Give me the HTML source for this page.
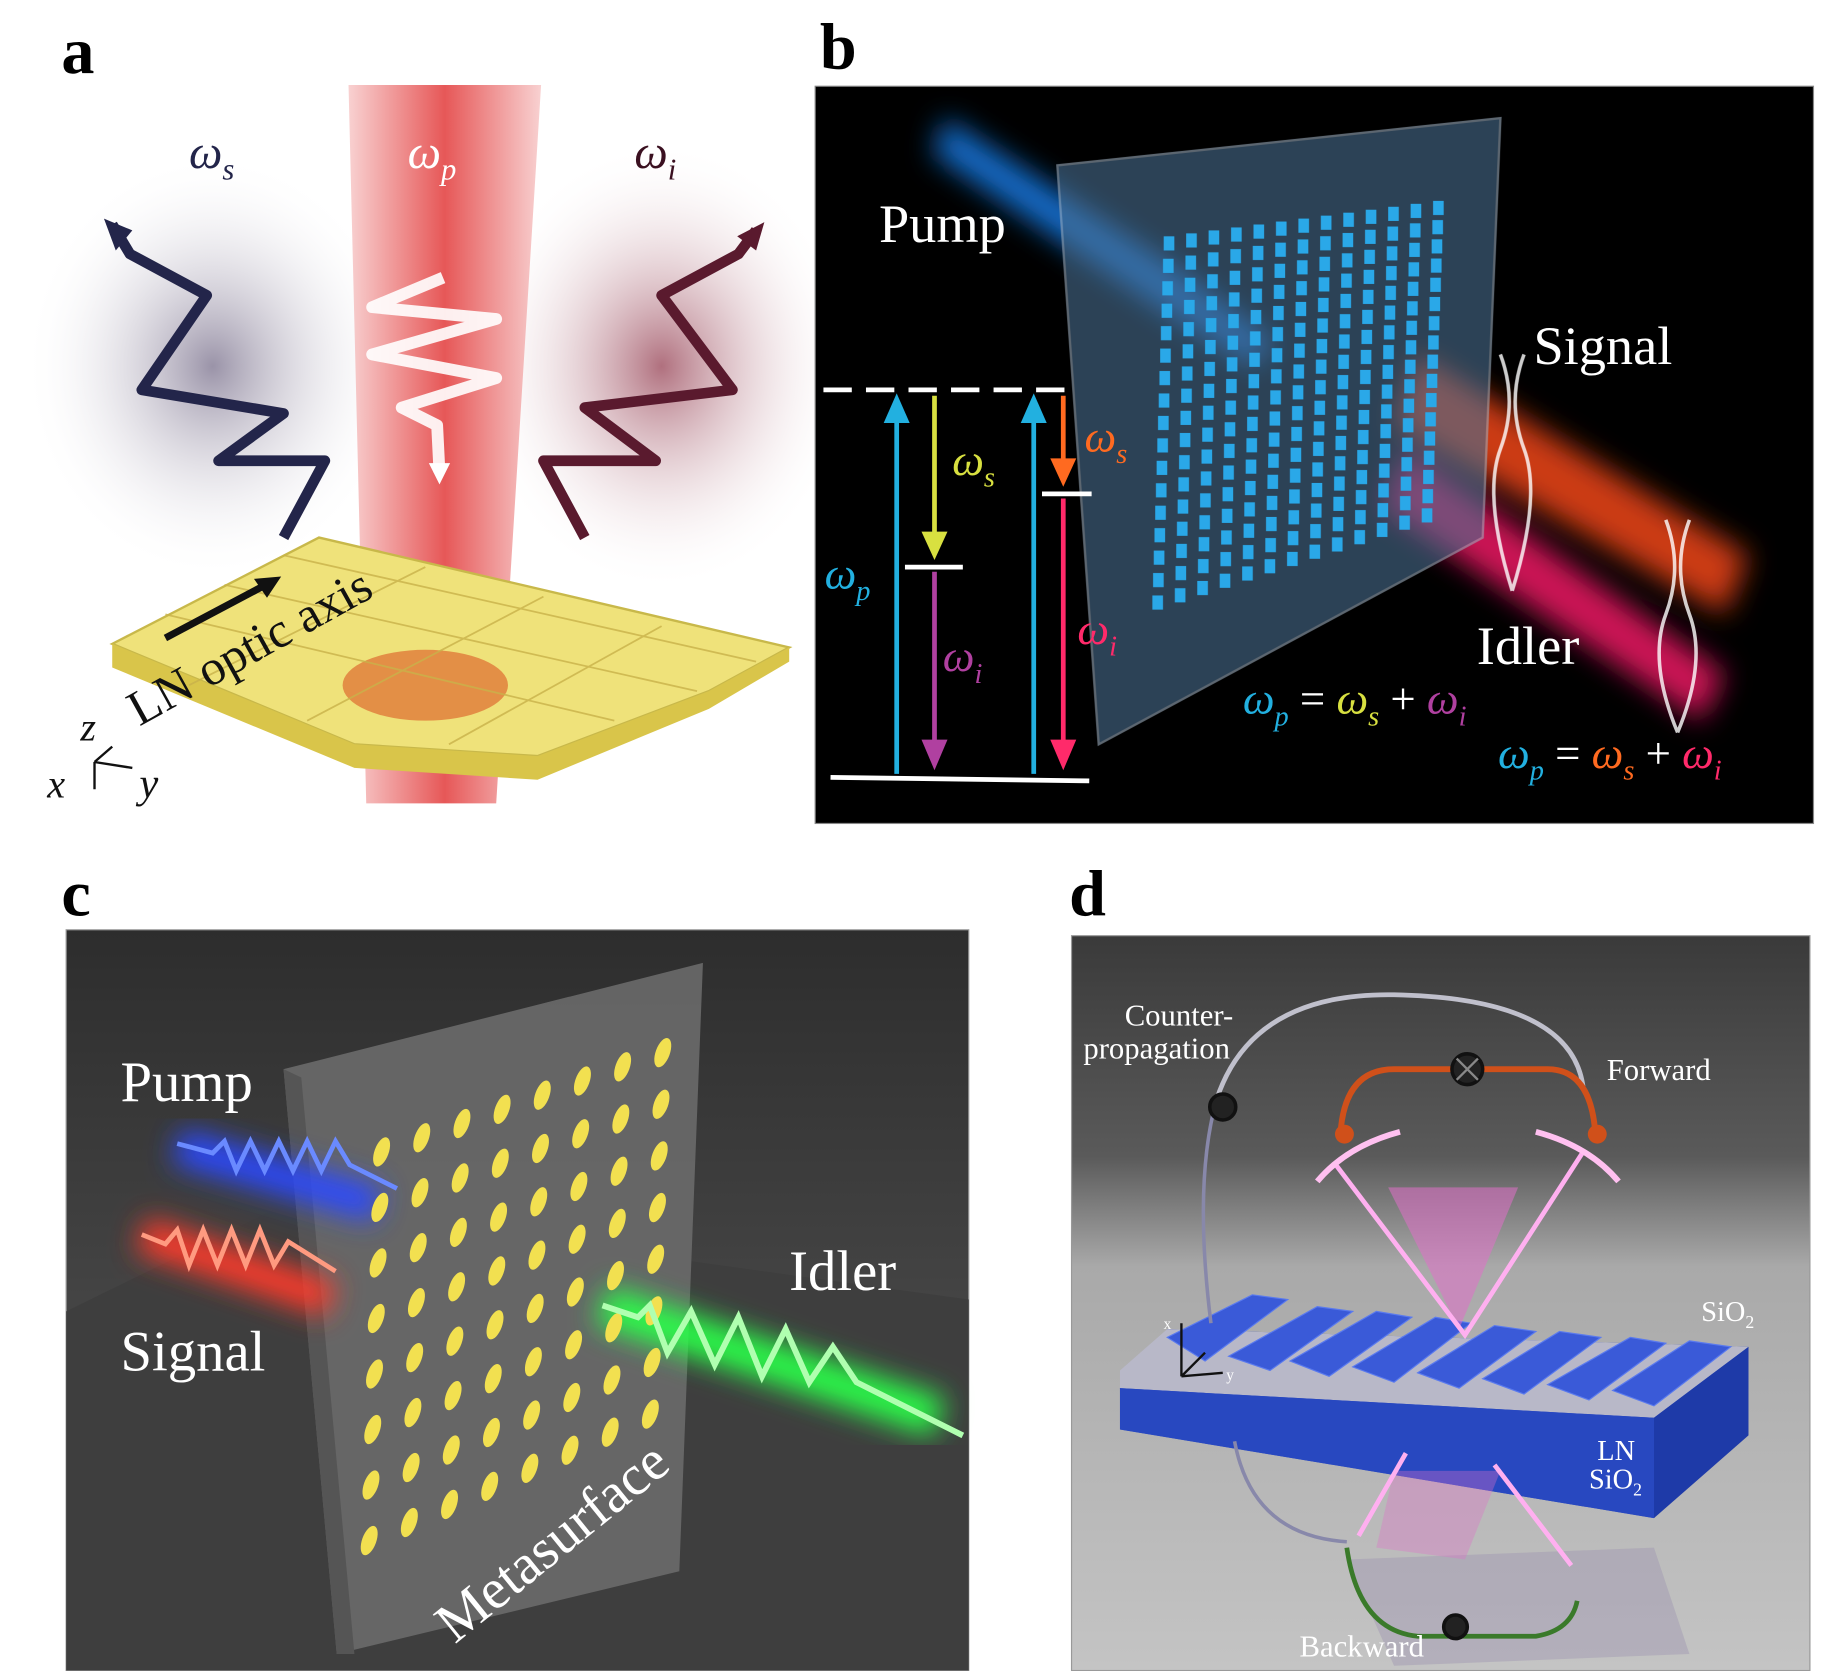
<!DOCTYPE html>
<html><head><meta charset="utf-8"><style>
html,body{margin:0;padding:0;background:#fff;}
svg{display:block;}
text{font-family:"Liberation Serif",serif;}
</style></head><body>
<svg width="1843" height="1671" viewBox="0 0 1560 1414.4" preserveAspectRatio="none" xmlns="http://www.w3.org/2000/svg">
<defs>
<linearGradient id="red" x1="0" x2="1"><stop offset="0" stop-color="#f7c9c9"/><stop offset=".5" stop-color="#e23a3a"/><stop offset="1" stop-color="#f7c9c9"/></linearGradient>
<radialGradient id="gL" cx=".5" cy=".5" r=".5"><stop offset="0" stop-color="#9a93a8"/><stop offset="1" stop-color="#fff" stop-opacity="0"/></radialGradient>
<radialGradient id="gR" cx=".5" cy=".5" r=".5"><stop offset="0" stop-color="#b0707e"/><stop offset="1" stop-color="#fff" stop-opacity="0"/></radialGradient>
<linearGradient id="dbg" x1="0" y1="0" x2="0" y2="1"><stop offset="0" stop-color="#3a3a3a"/><stop offset=".3" stop-color="#5a5a5a"/><stop offset=".45" stop-color="#a9a9a9"/><stop offset="1" stop-color="#c4c4c4"/></linearGradient>
<linearGradient id="cbg" x1="0" y1="0" x2="0" y2="1"><stop offset="0" stop-color="#2d2d2d"/><stop offset=".5" stop-color="#444"/><stop offset="1" stop-color="#3a3a3a"/></linearGradient>
<filter id="blur12"><feGaussianBlur stdDeviation="12"/></filter>
</defs>
<rect width="1560" height="1415" fill="#fff"/>

<!-- Panel a -->
<ellipse cx="180" cy="310" rx="160" ry="180" fill="url(#gL)"/>
<ellipse cx="560" cy="310" rx="160" ry="190" fill="url(#gR)"/>
<polygon points="295,72 458,72 420,680 310,680" fill="url(#red)" opacity=".85"/>
<polyline points="95,190 110,215 175,250 120,330 240,350 185,390 275,390 240,455" fill="none" stroke="#23254a" stroke-width="9" stroke-linejoin="round"/>
<polygon points="88,185 112,195 98,212" fill="#23254a"/>
<polyline points="640,195 625,215 560,250 620,330 495,345 555,390 460,390 495,455" fill="none" stroke="#5a1a2e" stroke-width="9" stroke-linejoin="round"/>
<polygon points="647,188 640,212 624,200" fill="#5a1a2e"/>
<polyline points="375,235 315,260 420,270 315,300 420,320 340,345 370,360 372,400" fill="none" stroke="#fff" stroke-width="10" stroke-linejoin="round" opacity=".9"/>
<polygon points="363,392 381,392 372,410" fill="#fff"/>
<polygon points="95,545 270,455 668,548 600,585 455,640 300,630" fill="#efe27a" stroke="#c8b84a" stroke-width="2"/>
<polygon points="95,545 95,565 300,650 455,660 600,600 668,560 668,548 600,585 455,640 300,630" fill="#d9c54a"/>
<ellipse cx="360" cy="580" rx="70" ry="30" fill="#e07a3a" opacity=".8"/>
<g stroke="#c9b24a" stroke-width="1.5" opacity=".8">
<line x1="140" y1="520" x2="520" y2="610"/><line x1="190" y1="495" x2="590" y2="585"/><line x1="240" y1="470" x2="640" y2="560"/>
<line x1="160" y1="580" x2="360" y2="480"/><line x1="260" y1="610" x2="460" y2="505"/><line x1="380" y1="630" x2="560" y2="530"/>
</g>
<line x1="140" y1="540" x2="225" y2="495" stroke="#111" stroke-width="6"/>
<polygon points="238,488 215,490 226,506" fill="#111"/>
<text x="0" y="0" font-size="42" fill="#111" transform="translate(118,615) rotate(-29)">LN optic axis</text>
<text x="160" y="142" font-size="40" font-style="italic" fill="#23254a">ω<tspan font-size="26" dy="10">s</tspan></text>
<text x="345" y="142" font-size="40" font-style="italic" fill="#fff">ω<tspan font-size="26" dy="10">p</tspan></text>
<text x="537" y="142" font-size="40" font-style="italic" fill="#3a1020">ω<tspan font-size="26" dy="10">i</tspan></text>
<text x="68" y="627" font-size="34" font-style="italic" fill="#111">z</text>
<text x="40" y="675" font-size="34" font-style="italic" fill="#111">x</text>
<text x="118" y="675" font-size="36" font-style="italic" fill="#111">y</text>
<path d="M80,645 L80,668 M80,645 L112,650 M80,645 L95,632" stroke="#111" stroke-width="2" fill="none"/>
<text x="52" y="62" font-size="56" font-weight="bold" fill="#000">a</text>

<!-- Panel b -->
<text x="694" y="58" font-size="56" font-weight="bold" fill="#000">b</text>
<rect x="690" y="73" width="845" height="624" fill="#000" stroke="#888" stroke-width="1"/>
<g filter="url(#blur12)">
<polygon points="1200,300 1480,470 1460,520 1180,360" fill="#ff4a1a" opacity=".8"/>
<polygon points="1190,380 1460,570 1440,610 1170,430" fill="#ff1a6a" opacity=".8"/>
<polygon points="800,100 1000,230 1080,290 1060,310 980,260 790,130" fill="#1a8aff" opacity=".8"/>
</g>
<polygon points="895,140 1270,100 1255,455 930,630" fill="#4a6f90" opacity=".6" stroke="#9ab" stroke-width="2"/>
<g id="gridb" fill="#2aa8e8"></g>
<path d="M1270,300 q15,40 0,80 q-15,40 10,120 M1290,300 q-15,40 0,80 q15,40 -10,120" stroke="#fff" stroke-width="3" fill="none" opacity=".8"/>
<path d="M1410,440 q15,40 0,80 q-15,40 10,100 M1430,440 q-15,40 0,80 q15,40 -10,100" stroke="#fff" stroke-width="3" fill="none" opacity=".8"/>
<line x1="697" y1="330" x2="908" y2="330" stroke="#fff" stroke-width="4" stroke-dasharray="24,12"/>
<line x1="703" y1="658" x2="922" y2="661" stroke="#fff" stroke-width="4"/>
<line x1="766" y1="480" x2="815" y2="480" stroke="#fff" stroke-width="4"/>
<line x1="882" y1="418" x2="924" y2="418" stroke="#fff" stroke-width="4"/>
<line x1="759" y1="655" x2="759" y2="350" stroke="#22b0e0" stroke-width="4"/><polygon points="748,358 770,358 759,333" fill="#22b0e0"/>
<line x1="875" y1="655" x2="875" y2="350" stroke="#22b0e0" stroke-width="4"/><polygon points="864,358 886,358 875,333" fill="#22b0e0"/>
<line x1="791" y1="335" x2="791" y2="455" stroke="#d8e040" stroke-width="4"/><polygon points="780,450 802,450 791,474" fill="#d8e040"/>
<line x1="791" y1="484" x2="791" y2="630" stroke="#b040a0" stroke-width="4"/><polygon points="780,626 802,626 791,652" fill="#b040a0"/>
<line x1="900" y1="335" x2="900" y2="390" stroke="#ff6a20" stroke-width="4"/><polygon points="889,388 911,388 900,412" fill="#ff6a20"/>
<line x1="900" y1="422" x2="900" y2="630" stroke="#ff2a6a" stroke-width="4"/><polygon points="889,626 911,626 900,652" fill="#ff2a6a"/>
<text x="744" y="205" font-size="46" fill="#fff">Pump</text>
<text x="1298" y="308" font-size="46" fill="#fff">Signal</text>
<text x="1250" y="562" font-size="46" fill="#fff">Idler</text>
<text x="698" y="498" font-size="38" font-style="italic" fill="#22b0e0">ω<tspan font-size="24" dy="10">p</tspan></text>
<text x="806" y="402" font-size="38" font-style="italic" fill="#d8e040">ω<tspan font-size="24" dy="10">s</tspan></text>
<text x="798" y="568" font-size="38" font-style="italic" fill="#b040a0">ω<tspan font-size="24" dy="10">i</tspan></text>
<text x="918" y="382" font-size="38" font-style="italic" fill="#ff6a20">ω<tspan font-size="24" dy="10">s</tspan></text>
<text x="912" y="545" font-size="38" font-style="italic" fill="#ff2a6a">ω<tspan font-size="24" dy="10">i</tspan></text>
<text x="1052" y="604" font-size="38" fill="#fff"><tspan font-style="italic" fill="#22b0e0">ω</tspan><tspan font-size="24" dy="10" font-style="italic" fill="#22b0e0">p</tspan><tspan dy="-10"> = </tspan><tspan font-style="italic" fill="#d8e040">ω</tspan><tspan font-size="24" dy="10" font-style="italic" fill="#d8e040">s</tspan><tspan dy="-10"> + </tspan><tspan font-style="italic" fill="#b040a0">ω</tspan><tspan font-size="24" dy="10" font-style="italic" fill="#b040a0">i</tspan></text>
<text x="1268" y="650" font-size="38" fill="#fff"><tspan font-style="italic" fill="#22b0e0">ω</tspan><tspan font-size="24" dy="10" font-style="italic" fill="#22b0e0">p</tspan><tspan dy="-10"> = </tspan><tspan font-style="italic" fill="#ff6a20">ω</tspan><tspan font-size="24" dy="10" font-style="italic" fill="#ff6a20">s</tspan><tspan dy="-10"> + </tspan><tspan font-style="italic" fill="#ff2a6a">ω</tspan><tspan font-size="24" dy="10" font-style="italic" fill="#ff2a6a">i</tspan></text>

<!-- Panel c -->
<text x="52" y="775" font-size="56" font-weight="bold" fill="#000">c</text>
<rect x="56" y="787" width="764" height="627" fill="url(#cbg)" stroke="#999"/>
<polygon points="56,1110 240,1020 820,1100 820,1414 56,1414" fill="#3e3e3e"/>
<polygon points="240,905 595,815 575,1330 285,1400" fill="#6a6a6a" opacity=".9"/>
<polygon points="240,905 255,912 300,1400 285,1400" fill="#555"/>
<g filter="url(#blur12)">
<path d="M150,970 L320,1020" stroke="#2a4aff" stroke-width="30"/>
<path d="M120,1045 L280,1100" stroke="#ff3a2a" stroke-width="30"/>
<path d="M510,1105 L795,1200" stroke="#2aff4a" stroke-width="34"/>
</g>
<path d="M150,968 l30,8 l10,-10 l10,25 l12,-25 l12,25 l12,-25 l12,25 l12,-25 l12,25 l12,-25 l12,20 l40,20" stroke="#6a8aff" stroke-width="4" fill="none"/>
<path d="M120,1045 l20,8 l10,-12 l10,30 l12,-30 l12,30 l12,-30 l12,30 l12,-30 l12,30 l12,-20 l40,25" stroke="#ff9a80" stroke-width="4" fill="none"/>
<g fill="#f2e050" id="ell"></g>
<path d="M510,1105 l30,10 l10,-10 l15,40 l20,-35 l20,45 l20,-40 l20,50 l20,-40 l20,45 l20,-30 l20,30 l90,45" stroke="#b0ffb0" stroke-width="5" fill="none"/>
<text x="102" y="932" font-size="48" fill="#fff">Pump</text>
<text x="102" y="1160" font-size="48" fill="#fff">Signal</text>
<text x="668" y="1092" font-size="48" fill="#fff">Idler</text>
<text font-size="48" fill="#fff" transform="translate(385,1392) rotate(-39)">Metasurface</text>

<!-- Panel d -->
<text x="905" y="775" font-size="56" font-weight="bold" fill="#000">d</text>
<rect x="907" y="792" width="625" height="622" fill="url(#dbg)" stroke="#999"/>
<polygon points="1140,1320 1400,1310 1430,1400 1180,1410" fill="#9a90b0" opacity=".4"/>
<polygon points="948,1175 988,1125 1480,1140 1480,1175 1400,1285 948,1210" fill="#2a4ac8"/>
<polygon points="948,1160 988,1125 1480,1140 1400,1200 948,1175" fill="#b8b8c8"/>
<polygon points="1400,1200 1480,1140 1480,1215 1400,1285" fill="#1e3aa8"/>
<polygon points="948,1175 1400,1200 1400,1285 948,1210" fill="#2848c0"/>
<g fill="#3a5ad8" stroke="#5a7aee" stroke-width="1">
<polygon points="988,1132 1060,1096 1090,1100 1020,1152"/>
<polygon points="1040,1148 1115,1106 1145,1110 1075,1160"/>
<polygon points="1092,1152 1165,1110 1195,1115 1125,1165"/>
<polygon points="1145,1157 1215,1115 1245,1120 1180,1170"/>
<polygon points="1200,1162 1265,1122 1300,1127 1235,1175"/>
<polygon points="1255,1167 1320,1127 1355,1132 1290,1180"/>
<polygon points="1310,1172 1380,1132 1410,1137 1345,1185"/>
<polygon points="1365,1177 1430,1135 1465,1140 1400,1190"/>
</g>
<polygon points="1175,1005 1285,1005 1235,1125" fill="#e070c8" opacity=".55"/>
<polygon points="1180,1245 1270,1245 1240,1320 1165,1310" fill="#e070c8" opacity=".35"/>
<path d="M1130,985 L1240,1130 L1340,975" stroke="#ffb0f0" stroke-width="4" fill="none"/>
<path d="M1150,1300 L1190,1230 M1330,1325 L1265,1240" stroke="#ffb0f0" stroke-width="4" fill="none"/>
<path d="M1030,930 Q1060,840 1180,842 Q1330,845 1340,920" stroke="#c0c0cc" stroke-width="4" fill="none"/>
<path d="M1030,930 Q1010,1000 1025,1120 M1045,1220 Q1060,1300 1140,1305" stroke="#8888aa" stroke-width="3" fill="none"/>
<path d="M1135,955 Q1140,905 1180,905 L1310,905 Q1345,905 1350,955" stroke="#d0501a" stroke-width="5" fill="none"/>
<path d="M1140,1310 Q1150,1380 1200,1385 L1300,1385 Q1330,1380 1335,1355" stroke="#3a7a2a" stroke-width="4" fill="none"/>
<circle cx="1242" cy="905" r="13" fill="#222" stroke="#111" stroke-width="3"/>
<circle cx="1035" cy="937" r="11" fill="#222" stroke="#111" stroke-width="3"/>
<circle cx="1232" cy="1377" r="10" fill="#222" stroke="#111" stroke-width="3"/>
<path d="M1233,896 l18,18 M1251,896 l-18,18" stroke="#888" stroke-width="2"/>
<circle cx="1138" cy="960" r="8" fill="#d0501a"/><circle cx="1352" cy="960" r="8" fill="#d0501a"/>
<path d="M1115,1000 Q1140,970 1185,958 M1370,1000 Q1345,970 1300,958" stroke="#ffc0f0" stroke-width="5" fill="none"/>
<text x="952" y="868" font-size="26" fill="#fff">Counter-</text>
<text x="917" y="896" font-size="26" fill="#fff">propagation</text>
<text x="1360" y="914" font-size="26" fill="#fff">Forward</text>
<text x="1100" y="1402" font-size="26" fill="#fff">Backward</text>
<text x="1440" y="1118" font-size="24" fill="#fff">SiO<tspan font-size="15" dy="6">2</tspan></text>
<text x="1352" y="1236" font-size="24" fill="#fff">LN</text>
<text x="1345" y="1260" font-size="24" fill="#fff">SiO<tspan font-size="15" dy="6">2</tspan></text>
<path d="M1000,1165 L1000,1120 M1000,1165 L1035,1162 M1000,1165 L1020,1145" stroke="#111" stroke-width="2" fill="none"/>
<text x="985" y="1125" font-size="13" fill="#fff">x</text>
<text x="1038" y="1168" font-size="13" fill="#fff">y</text>
</svg>
<script>
(function(){
var ns="http://www.w3.org/2000/svg";
var gb=document.getElementById("gridb");
for(var r=0;r<17;r++)for(var c=0;c<13;c++){
 var x=985+c*19-r*0.6, y=200+r*19*(1-c*0.012)-c*2.5;
 var e=document.createElementNS(ns,"rect");
 e.setAttribute("x",x);e.setAttribute("y",y);e.setAttribute("width",9);e.setAttribute("height",12);gb.appendChild(e);}
var g=document.getElementById("ell");
for(var r=0;r<8;r++)for(var c=0;c<8;c++){
 var x=323+c*34-r*1.5, y=975+r*47*(1-c*0.01)-c*12;
 var e=document.createElementNS(ns,"ellipse");
 e.setAttribute("cx",x);e.setAttribute("cy",y);e.setAttribute("rx",6);e.setAttribute("ry",13);
 e.setAttribute("transform","rotate(20 "+x+" "+y+")");g.appendChild(e);}
})();
</script>
</body></html>
